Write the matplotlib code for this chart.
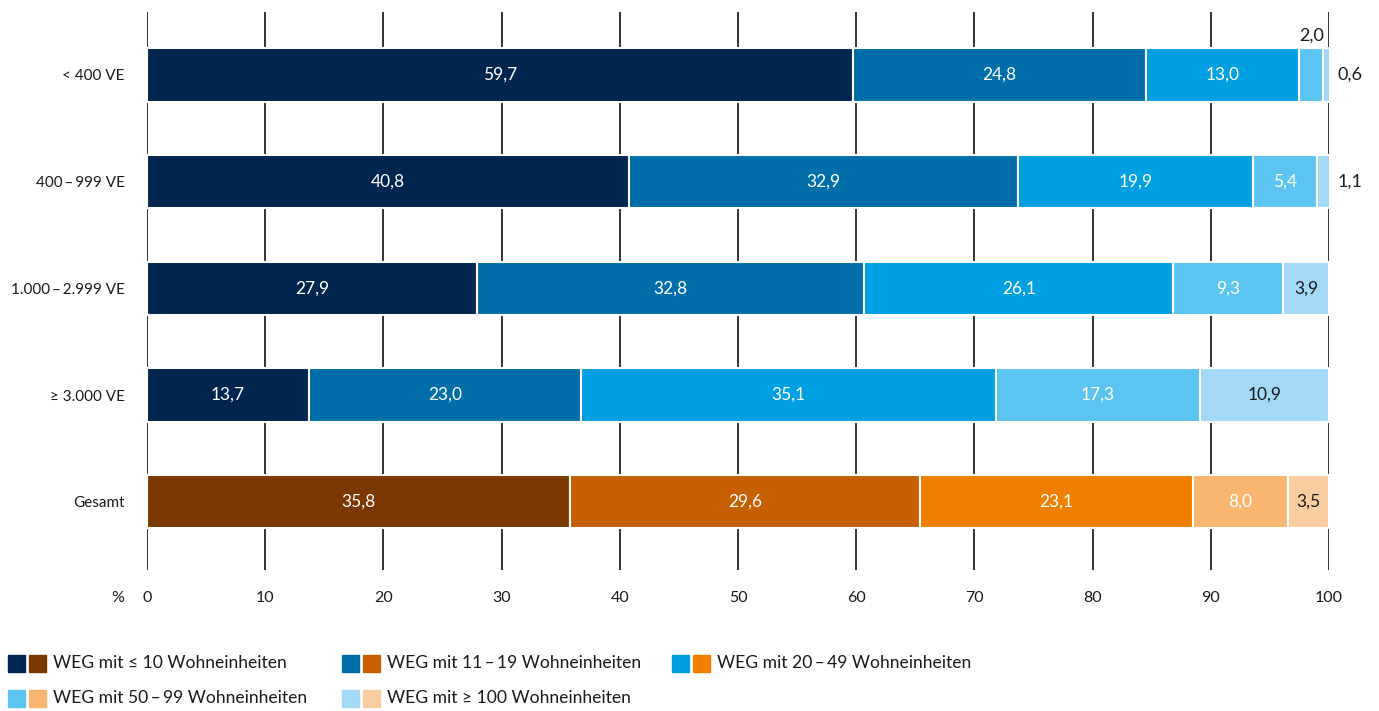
import matplotlib.pyplot as plt
from matplotlib.patches import Rectangle
import numpy as np

plt.rcParams['font.family'] = ['Lato', 'DejaVu Sans']

categories = ['< 400 VE', '400\u2009–\u2009999 VE', '1.000\u2009–\u20092.999 VE', '≥ 3.000 VE', 'Gesamt']
series = ['WEG mit ≤ 10 Wohneinheiten', 'WEG mit 11\u2009–\u200919 Wohneinheiten',
          'WEG mit 20\u2009–\u200949 Wohneinheiten', 'WEG mit 50\u2009–\u200999 Wohneinheiten',
          'WEG mit ≥ 100 Wohneinheiten']
values = np.array([
    [59.7, 24.8, 13.0, 2.0, 0.6],
    [40.8, 32.9, 19.9, 5.4, 1.1],
    [27.9, 32.8, 26.1, 9.3, 3.9],
    [13.7, 23.0, 35.1, 17.3, 10.9],
    [35.8, 29.6, 23.1, 8.0, 3.5],
])
blues = ['#00264f', '#006ea8', '#00a0e2', '#5bc4f1', '#a3d9f7']
oranges = ['#7a3800', '#c55f00', '#f07f00', '#f7b570', '#facda0']
xticks = [0, 10, 20, 30, 40, 50, 60, 70, 80, 90, 100]

fig = plt.figure(figsize=(13.79, 7.11), dpi=100)
ax = fig.add_axes([147 / 1379, 1 - 570 / 711, 1182 / 1379, 558 / 711])

y = np.arange(len(categories))
for i, row in enumerate(values):
    colors = oranges if categories[i] == 'Gesamt' else blues
    left = 0
    for j, v in enumerate(row):
        ax.barh(y[i], v, left=left, height=0.5, color=colors[j],
                edgecolor='white', linewidth=1.5, zorder=3)
        txt = f'{v:.1f}'.replace('.', ',')
        cx = left + v / 2
        if v < 1.5:
            # tiny segments: label to the right of the bar
            ax.text(101.8, y[i], txt, ha='center', va='center', fontsize=13,
                    color='#1a1a1a', zorder=4)
        elif v < 2.5:
            ax.text(cx, y[i] - 0.37, txt, ha='center', va='center', fontsize=13,
                    color='#1a1a1a', zorder=4)
        else:
            c = '#1a1a1a' if j == 4 else 'white'
            ax.text(cx, y[i], txt, ha='center', va='center', fontsize=12.5,
                    color=c, zorder=4)
        left += v

ax.set_xlim(0, 100)
ax.set_ylim(4.64, -0.59)
ax.set_xticks(xticks)
ax.set_yticks(y)
ax.set_yticklabels(categories, fontsize=11, color='#1a1a1a')
ax.tick_params(axis='x', length=0, pad=15, labelsize=11.5, labelcolor='#1a1a1a')
ax.tick_params(axis='y', length=0, pad=16)
ax.grid(axis='x', color='#222222', linewidth=1.3, zorder=0)
for s in ax.spines.values():
    s.set_visible(False)
ax.annotate('%', xy=(-2.5, 0), xycoords=('data', 'axes fraction'), xytext=(0, -15),
            textcoords='offset points', ha='center', va='top', fontsize=11.5,
            color='#1a1a1a')

# legend: paired swatches (blue / orange) with labels
legend_pos = [(8, 663), (342, 663), (672, 663), (8, 698), (342, 698)]
W, H = fig.get_size_inches() * fig.dpi
sw = 17
for k, (px, py) in enumerate(legend_pos):
    for m, col in enumerate([blues[k], oranges[k]]):
        x0 = px + m * 21
        fig.patches.append(Rectangle((x0 / W, 1 - (py + sw / 2) / H), sw / W, sw / H,
                                     transform=fig.transFigure, color=col))
    fig.text((px + 45) / W, 1 - py / H, series[k], ha='left', va='center',
             fontsize=12.6, color='#1a1a1a')

fig.savefig('out.png', dpi=100)
